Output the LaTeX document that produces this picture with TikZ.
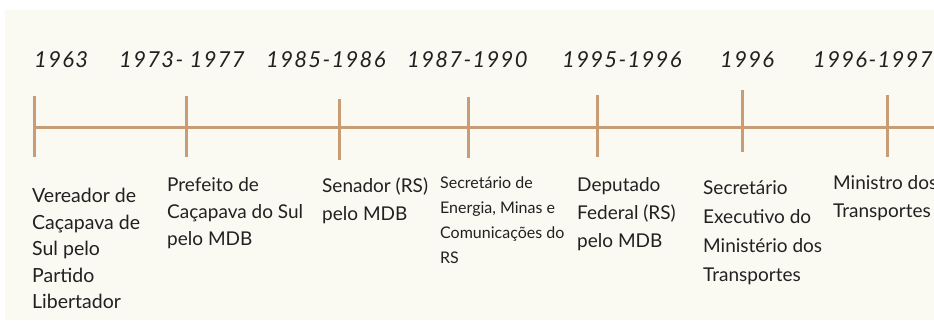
\documentclass[tikz,border=0pt]{standalone}
\usepackage{fontspec}
\setmainfont{Lato}
\newfontfamily\yearfont[LetterSpace=6]{Lato}
\usepackage{tikz}
\usetikzlibrary{positioning}
\definecolor{timeline}{RGB}{200,156,116}
\definecolor{paper}{RGB}{250,250,243}
\definecolor{ink}{RGB}{33,33,33}
\tikzstyle{year} = [anchor=base west, inner sep=0, text=ink, font=\yearfont\itshape\fontsize{22}{26}\selectfont]
\tikzstyle{role} = [anchor=north west, inner sep=0, align=left, text=ink, font=\fontsize{19}{28}\selectfont]
\tikzstyle{smallrole} = [role, font=\fontsize{16}{25}\selectfont]
\tikzstyle{yeartick} = [line width=3pt, draw=timeline]

\begin{document}
\begin{tikzpicture}[x=1pt, y=-1pt]
    % Canvas
    \fill[white] (0,0) rectangle (934,321);
    \useasboundingbox (0,0) rectangle (934,321);
    \fill[paper] (5,10) rectangle (934,320);
    \clip (5,10) rectangle (934,320);
    % Points on the line
    \coordinate (t1963) at (34,127.5);
    \coordinate (t1973) at (186,127.5);
    \coordinate (t1985) at (339,127.5);
    \coordinate (t1987) at (468,127.5);
    \coordinate (t1995) at (597,127.5);
    \coordinate (t1996) at (742,127.5);
    \coordinate (t1997) at (887,127.5);
    \coordinate (tend) at (940,127.5);
    % Line and ticks
    \draw [yeartick] (t1963) -- (tend);
    \draw [yeartick] ([yshift=31.5pt]t1963) -- ([yshift=-29.5pt]t1963);
    \draw [yeartick] ([yshift=31.5pt]t1973) -- ([yshift=-29.5pt]t1973);
    \draw [yeartick] ([yshift=28.5pt]t1985) -- ([yshift=-32.5pt]t1985);
    \draw [yeartick] ([yshift=30.5pt]t1987) -- ([yshift=-30.5pt]t1987);
    \draw [yeartick] ([yshift=32.5pt]t1995) -- ([yshift=-29.5pt]t1995);
    \draw [yeartick] ([yshift=37.5pt]t1996) -- ([yshift=-24.5pt]t1996);
    \draw [yeartick] ([yshift=32.5pt]t1997) -- ([yshift=-29.5pt]t1997);
    % Years
    \node (y1963) [year] at (34,67) {1963};
    \node (y1973) [year] at (119,67) {1973- 1977};
    \node (y1985) [year] at (266,67) {1985-1986};
    \node (y1987) [year] at (407,67) {1987-1990};
    \node (y1995) [year] at (562,67) {1995-1996};
    \node (y1996) [year] at (720,67) {1996};
    \node (y1997) [year] at (813,67) {1996-1997};
    % Roles
    \node (vereador) [role, font=\fontsize{19.5}{26.5}\selectfont] at (32,188) {Vereador de\\Caçapava de\\Sul pelo\\Partido\\Libertador};
    \node (prefeito) [role, font=\fontsize{19}{27}\selectfont] at (167,177) {Prefeito de\\Caçapava do Sul\\pelo MDB};
    \node (senador) [role] at (322,178) {Senador (RS)\\pelo MDB};
    \node (energia) [smallrole] at (440,177) {Secretário de\\Energia, Minas e\\Comunicações do\\RS};
    \node (deputado) [role] at (577,177) {Deputado\\Federal (RS)\\pelo MDB};
    \node (executivo) [role, font=\fontsize{19}{29}\selectfont] at (703,180) {Secretário\\Executivo do\\Ministério dos\\Transportes};
    \node (ministro) [role] at (833,175) {Ministro dos\\Transportes};
\end{tikzpicture}
\end{document}
